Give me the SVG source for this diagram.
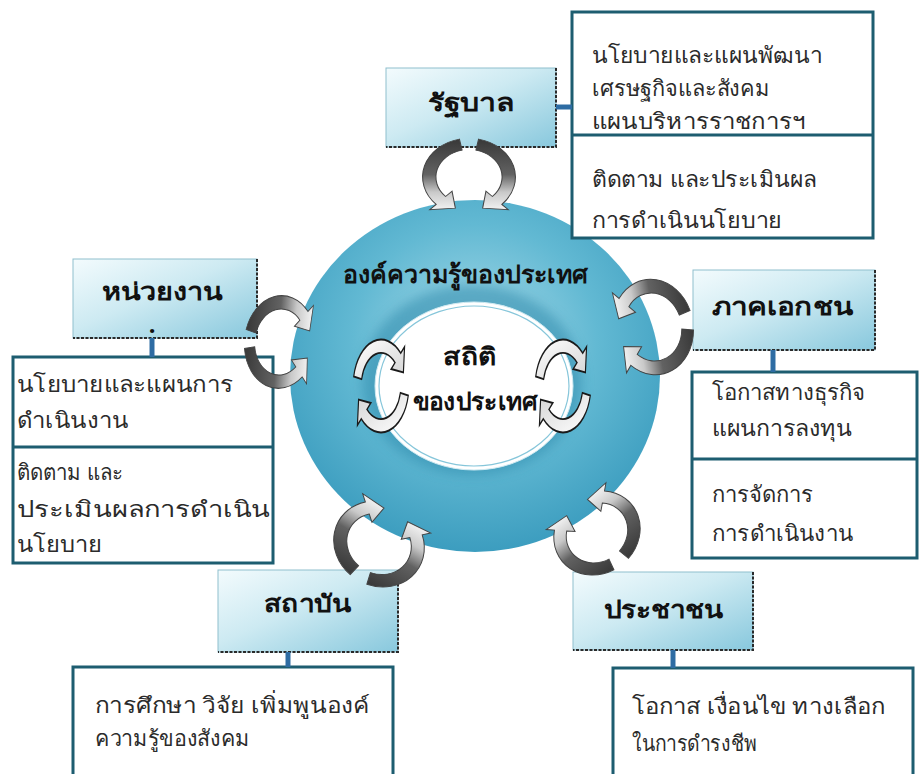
<svg xmlns="http://www.w3.org/2000/svg" xmlns:xlink="http://www.w3.org/1999/xlink" width="920" height="774" viewBox="0 0 920 774">
<defs>
<style>
.box{fill:#ffffff;stroke:#1d5d70;stroke-width:3}
.div{stroke:#1d5d70;stroke-width:3}
.hdr{fill:url(#hdrG);stroke:#8fbfcd;stroke-width:1}
.shd{fill:none;stroke:#2a2a2a;stroke-width:2;stroke-dasharray:3 1.5}
.conn{stroke:#2e6ca3;stroke-width:5;fill:none}
.t{font-family:'Noto Sans','DejaVu Sans',sans-serif;font-size:22px;fill:#2b2b2b}
.h{font-family:'Noto Sans','DejaVu Sans',sans-serif;font-size:24px;font-weight:bold;fill:#111;text-anchor:middle}
.c{font-family:'Noto Sans','DejaVu Sans',sans-serif;font-weight:bold;fill:#111;text-anchor:middle}
.oa{fill:url(#arrG);stroke:#444;stroke-width:0.7;vector-effect:non-scaling-stroke}
.ia{fill:url(#inG);stroke:#1a1a1a;stroke-width:1.3;vector-effect:non-scaling-stroke}
</style>
<linearGradient id="hdrG" x1="0" y1="0" x2="1" y2="1">
<stop offset="0" stop-color="#f3fbfd"/>
<stop offset="0.45" stop-color="#cdeaf2"/>
<stop offset="1" stop-color="#88c8dd"/>
</linearGradient>
<linearGradient id="arrG" x1="0" y1="0" x2="0" y2="1">
<stop offset="0" stop-color="#383838"/>
<stop offset="0.5" stop-color="#626262"/>
<stop offset="0.75" stop-color="#c9c9c9"/>
<stop offset="1" stop-color="#f2f2f2"/>
</linearGradient>
<linearGradient id="inG" x1="0" y1="0" x2="1" y2="1">
<stop offset="0" stop-color="#ffffff"/>
<stop offset="1" stop-color="#d4d4d4"/>
</linearGradient>
<radialGradient id="ringG" cx="0.5" cy="0.4" r="0.6">
<stop offset="0" stop-color="#a9dbe9"/>
<stop offset="0.55" stop-color="#62b9d3"/>
<stop offset="1" stop-color="#3c9dbf"/>
</radialGradient>
<filter id="blur" x="-20%" y="-20%" width="140%" height="140%">
<feGaussianBlur stdDeviation="6"/>
</filter>
<path id="arc" d="M -6.4,-30.3 A 31 31 0 0 0 -21.9,21.9 L -26.2,26.2 L -9.1,24.9 L -11.3,11.3 L -15.6,15.6 A 22 22 0 0 1 -4.6,-21.5 Z"/>
</defs>
<rect width="920" height="774" fill="#ffffff"/>

<g id="center">
<ellipse cx="475" cy="376" rx="185" ry="176" fill="url(#ringG)"/>
<ellipse cx="472" cy="380" rx="110" ry="95" fill="#2f8aac" opacity="0.55" filter="url(#blur)"/>
<ellipse cx="474" cy="386" rx="99" ry="84" fill="#ffffff" stroke="#cfeaf2" stroke-width="1"/>
<ellipse cx="474" cy="386" rx="95" ry="80" fill="none" stroke="#86c6da" stroke-width="1.2"/>
<text class="c" x="465" y="283" font-size="25" textLength="245" lengthAdjust="spacingAndGlyphs">องค์ความรู้ของประเทศ</text>
<text class="c" x="470" y="365" font-size="24" textLength="54" lengthAdjust="spacingAndGlyphs">สถิติ</text>
<text class="c" x="475" y="410" font-size="24" textLength="125" lengthAdjust="spacingAndGlyphs">ของประเทศ</text>
</g>

<g id="gov">
<rect class="hdr" x="386" y="68" width="170" height="79"/>
<polyline class="shd" points="556,68 556,147 386,147"/>
<text class="h" x="471" y="111" textLength="87" lengthAdjust="spacingAndGlyphs">รัฐบาล</text>
</g>
<g id="gov-box">
<rect class="box" x="572" y="12" width="301" height="226"/>
<line class="div" x1="572" y1="135" x2="873" y2="135"/>
<text class="t" x="592" y="63" textLength="230" lengthAdjust="spacingAndGlyphs">นโยบายและแผนพัฒนา</text>
<text class="t" x="592" y="96" textLength="178" lengthAdjust="spacingAndGlyphs">เศรษฐกิจและสังคม</text>
<text class="t" x="592" y="129" textLength="213" lengthAdjust="spacingAndGlyphs">แผนบริหารราชการฯ</text>
<text class="t" x="592" y="187" textLength="225" lengthAdjust="spacingAndGlyphs">ติดตาม และประเมินผล</text>
<text class="t" x="592" y="228" textLength="190" lengthAdjust="spacingAndGlyphs">การดำเนินนโยบาย</text>
</g>

<g id="agency">
<rect class="hdr" x="73" y="259" width="184" height="79"/>
<polyline class="shd" points="257,259 257,338 73,338"/>
<text class="h" x="162" y="300" textLength="120" lengthAdjust="spacingAndGlyphs">หน่วยงาน</text>
<text class="h" x="152" y="333" font-size="11">.</text>
</g>
<g id="agency-box">
<rect class="box" x="13" y="357" width="260" height="206"/>
<line class="div" x1="13" y1="447" x2="273" y2="447"/>
<text class="t" x="17" y="392" textLength="216" lengthAdjust="spacingAndGlyphs">นโยบายและแผนการ</text>
<text class="t" x="17" y="428" textLength="111" lengthAdjust="spacingAndGlyphs">ดำเนินงาน</text>
<text class="t" x="17" y="480" textLength="106" lengthAdjust="spacingAndGlyphs">ติดตาม และ</text>
<text class="t" x="17" y="517" textLength="253" lengthAdjust="spacingAndGlyphs">ประเมินผลการดำเนิน</text>
<text class="t" x="17" y="552" textLength="85" lengthAdjust="spacingAndGlyphs">นโยบาย</text>
</g>

<g id="private">
<rect class="hdr" x="693" y="270" width="182" height="80"/>
<polyline class="shd" points="875,270 875,350 693,350"/>
<text class="h" x="782" y="315" textLength="141" lengthAdjust="spacingAndGlyphs">ภาคเอกชน</text>
</g>
<g id="private-box">
<rect class="box" x="692" y="372" width="225" height="186"/>
<line class="div" x1="692" y1="459" x2="917" y2="459"/>
<text class="t" x="712" y="400" textLength="153" lengthAdjust="spacingAndGlyphs">โอกาสทางธุรกิจ</text>
<text class="t" x="712" y="436" textLength="140" lengthAdjust="spacingAndGlyphs">แผนการลงทุน</text>
<text class="t" x="712" y="502" textLength="101" lengthAdjust="spacingAndGlyphs">การจัดการ</text>
<text class="t" x="712" y="541" textLength="141" lengthAdjust="spacingAndGlyphs">การดำเนินงาน</text>
</g>

<g id="institute">
<rect class="hdr" x="218" y="570" width="180" height="82"/>
<polyline class="shd" points="398,570 398,652 218,652"/>
<text class="h" x="307" y="612" textLength="87" lengthAdjust="spacingAndGlyphs">สถาบัน</text>
</g>
<g id="institute-box">
<rect class="box" x="73" y="667" width="320" height="120"/>
<text class="t" x="95" y="713" textLength="275" lengthAdjust="spacingAndGlyphs">การศึกษา วิจัย เพิ่มพูนองค์</text>
<text class="t" x="95" y="746" textLength="155" lengthAdjust="spacingAndGlyphs">ความรู้ของสังคม</text>
</g>

<g id="people">
<rect class="hdr" x="573" y="572" width="180" height="78"/>
<polyline class="shd" points="753,572 753,650 573,650"/>
<text class="h" x="663" y="618" textLength="119" lengthAdjust="spacingAndGlyphs">ประชาชน</text>
</g>
<g id="people-box">
<rect class="box" x="613" y="668" width="300" height="120"/>
<text class="t" x="632" y="714" textLength="253" lengthAdjust="spacingAndGlyphs">โอกาส เงื่อนไข ทางเลือก</text>
<text class="t" x="632" y="751" textLength="125" lengthAdjust="spacingAndGlyphs">ในการดำรงชีพ</text>
</g>

<g id="connectors">
<line class="conn" x1="556" y1="107" x2="572" y2="107"/>
<line class="conn" x1="152" y1="338" x2="152" y2="357"/>
<line class="conn" x1="773" y1="350" x2="773" y2="372"/>
<line class="conn" x1="288" y1="652" x2="288" y2="667"/>
<line class="conn" x1="673" y1="650" x2="673" y2="668"/>
<g id="cycle-top" transform="translate(469,177) scale(1.5,1.25)">
<use href="#arc" class="oa"/><use href="#arc" class="oa" transform="scale(-1,1)"/>
</g>
<g id="cycle-left" transform="translate(280,342) rotate(-85) scale(1.5,1.15)">
<use href="#arc" class="oa"/><use href="#arc" class="oa" transform="scale(-1,1)"/>
</g>
<g id="cycle-right" transform="translate(653,327) rotate(80) scale(1.55,1.3)">
<use href="#arc" class="oa"/><use href="#arc" class="oa" transform="scale(-1,1)"/>
</g>
<g id="cycle-bl" transform="translate(379,544) rotate(210) scale(1.5,1.35)">
<use href="#arc" class="oa"/><use href="#arc" class="oa" transform="scale(-1,1)"/>
</g>
<g id="cycle-br" transform="translate(597,533) rotate(142) scale(1.45,1.3)">
<use href="#arc" class="oa"/><use href="#arc" class="oa" transform="scale(-1,1)"/>
</g>
<g id="cycle-in-left" transform="translate(381,386) scale(0.9,1.5)">
<use href="#arc" class="ia" transform="rotate(-90) scale(-1,1)"/><use href="#arc" class="ia" transform="rotate(90) scale(-1,1)"/>
</g>
<g id="cycle-in-right" transform="translate(563,386) scale(0.9,1.5)">
<use href="#arc" class="ia" transform="rotate(-90) scale(-1,1)"/><use href="#arc" class="ia" transform="rotate(90) scale(-1,1)"/>
</g>
</g>
</svg>
